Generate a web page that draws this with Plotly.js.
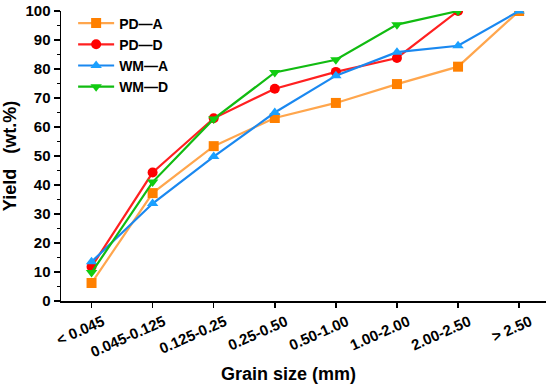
<!DOCTYPE html>
<html>
<head>
<meta charset="utf-8">
<script src="https://cdn.plot.ly/plotly-3.0.1.min.js"></script>
<style>html,body{margin:0;padding:0;background:#fff;}#chart{width:550px;height:384px;}</style>
</head>
<body>
<div id="chart"></div>
<script>
var categories = ["< 0.045", "0.045-0.125", "0.125-0.25", "0.25-0.50", "0.50-1.00", "1.00-2.00", "2.00-2.50", "> 2.50"];
var pdA = [6.2, 37.2, 53.4, 63.1, 68.3, 74.8, 80.8, 100];
var pdD = [11.8, 44.3, 63.0, 73.2, 79.0, 83.8, 100];
var wmA = [13.5, 33.6, 49.8, 65.0, 77.7, 85.8, 88.0, 100];
var wmD = [9.8, 41.0, 62.8, 78.8, 83.2, 95.3, 100];
var seriesNames = ["PD\u2014A", "PD\u2014D", "WM\u2014A", "WM\u2014D"];

function tr(name, y, lineColor, markerColor, symbol) {
  return {
    type: "scatter", mode: "lines+markers", name: name,
    x: categories.slice(0, y.length), y: y,
    line: {color: lineColor, width: 2.2},
    marker: {color: markerColor, symbol: symbol, size: 10}
  };
}
var data = [
  tr(seriesNames[0], pdA, "#ffa64d", "#ff8000", "square"),
  tr(seriesNames[1], pdD, "#ff2020", "#ff0000", "circle"),
  tr(seriesNames[2], wmA, "#1a88f0", "#1aa0ff", "triangle-up"),
  tr(seriesNames[3], wmD, "#11bb11", "#11cc11", "triangle-down")
];
var fontFam = "Liberation Sans, Arial, sans-serif";
var layout = {
  width: 550, height: 384,
  margin: {l: 61, r: 4, t: 11, b: 83},
  paper_bgcolor: "#fff", plot_bgcolor: "#fff",
  font: {family: fontFam, color: "#000", size: 14, weight: "bold"},
  showlegend: true,
  legend: {x: 0.025, y: 1.012, xanchor: "left", yanchor: "top", bgcolor: "rgba(0,0,0,0)",
           font: {size: 14, family: fontFam, weight: "bold"}, itemwidth: 36},
  xaxis: {
    type: "category", range: [-0.5, 7.44],
    showline: true, linecolor: "#000", linewidth: 1.5,
    ticks: "outside", ticklen: 5, tickcolor: "#000", tickwidth: 1.5,
    showgrid: false, zeroline: false, tickangle: -24, ticklabelshift: 11,
    tickfont: {size: 15, family: fontFam, weight: "bold"},
    title: {text: "Grain size (mm)&nbsp;&nbsp;&nbsp;&nbsp;&nbsp;&nbsp;", font: {size: 18, family: fontFam, weight: "bold"}, standoff: 12}
  },
  yaxis: {
    range: [0, 100], dtick: 10,
    showline: true, linecolor: "#000", linewidth: 1.5,
    ticks: "outside", ticklen: 6, tickcolor: "#000", tickwidth: 1.5,
    minor: {dtick: 5, ticks: "outside", ticklen: 3, tickcolor: "#000", tickwidth: 1.5},
    showgrid: false, zeroline: false,
    tickfont: {size: 15, family: fontFam, weight: "bold"},
    title: {text: "Yield&nbsp;&nbsp;&nbsp;(wt.%)", font: {size: 18, family: fontFam, weight: "bold"}, standoff: 5}
  }
};
Plotly.newPlot("chart", data, layout, {displayModeBar: false, staticPlot: true});
</script>
</body>
</html>
